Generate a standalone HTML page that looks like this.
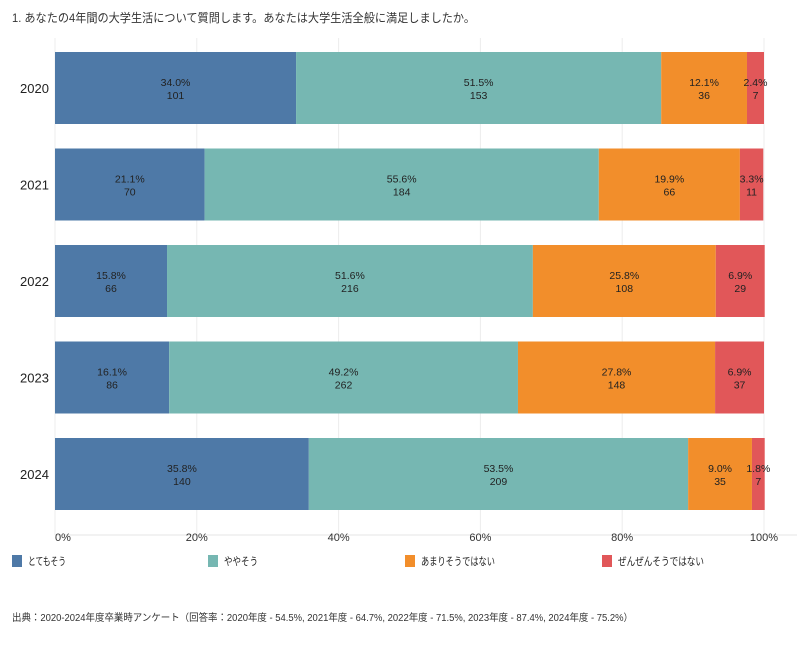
<!DOCTYPE html>
<html><head><meta charset="utf-8"><style>
body{margin:0;background:#fff;font-family:"Liberation Sans","Noto Sans CJK JP",sans-serif;}
svg text{font-family:"Liberation Sans","Noto Sans CJK JP",sans-serif;}
</style></head><body>
<svg id="chart" width="800" height="640" xmlns="http://www.w3.org/2000/svg">
<text x="12" y="22" font-size="12" fill="#333" textLength="463" lengthAdjust="spacingAndGlyphs">1. あなたの4年間の大学生活について質問します。あなたは大学生活全般に満足しましたか。</text>
<g id="grid"></g><g id="bars"></g><g id="axis"></g><g id="legend"></g>
<text x="12" y="621" font-size="10" fill="#333" textLength="621" lengthAdjust="spacingAndGlyphs">出典：2020-2024年度卒業時アンケート（回答率：2020年度 - 54.5%, 2021年度 - 64.7%, 2022年度 - 71.5%, 2023年度 - 87.4%, 2024年度 - 75.2%）</text>
</svg>
<script>
const years=["2020","2021","2022","2023","2024"];
const categories=["とてもそう","ややそう","あまりそうではない","ぜんぜんそうではない"];
const percents=[[34.0,51.5,12.1,2.4],[21.1,55.6,19.9,3.3],[15.8,51.6,25.8,6.9],[16.1,49.2,27.8,6.9],[35.8,53.5,9.0,1.8]];
const counts=[[101,153,36,7],[70,184,66,11],[66,216,108,29],[86,262,148,37],[140,209,35,7]];
const ticks=[0,20,40,60,80,100];
const colors=["#4e79a7","#76b7b2","#f28e2b","#e15759"];
const NS="http://www.w3.org/2000/svg";
const x0=55,x1=764,yTop=52,step=96.5,bh=72;
const xs=v=>x0+(x1-x0)*v/100;
function mk(t,a,p){const e=document.createElementNS(NS,t);for(const k in a)e.setAttribute(k,a[k]);p.appendChild(e);return e;}
const grid=document.getElementById('grid'),bars=document.getElementById('bars'),axis=document.getElementById('axis'),legend=document.getElementById('legend');
ticks.forEach(t=>{
 const l=mk('line',{x1:xs(t),x2:xs(t),y1:38,y2:535,stroke:'#ececec'},grid);
 
 
 const tx=mk('text',{x:xs(t)+(t==0?8:0),y:541,'font-size':11,fill:'#333','text-anchor':'middle'},axis);
 tx.textContent=t+'%';
 
 
});
mk('line',{x1:x0,x2:797,y1:535,y2:535,stroke:'#e4e4e4'},grid);
years.forEach((y,i)=>{
 const top=yTop+i*step;
 const yl=mk('text',{x:20,y:top+bh/2+5,'font-size':13,fill:'#222'},axis);
 yl.textContent=y;
 
 
 let acc=0;
 percents[i].forEach((p,j)=>{
  const r=mk('rect',{x:xs(acc),y:top,width:xs(acc+p)-xs(acc),height:bh,fill:colors[j]},bars);
  
  
  const cx=(xs(acc)+xs(acc+p))/2;
  const t1=mk('text',{x:cx,y:top+bh/2-2,'font-size':10.5,fill:'#222','text-anchor':'middle'},bars);
  t1.textContent=p.toFixed(1)+'%';
  
  
  const t2=mk('text',{x:cx,y:top+bh/2+11,'font-size':10.5,fill:'#222','text-anchor':'middle'},bars);
  t2.textContent=counts[i][j];
  
  
  acc+=p;
 });
});
const lx=[12,208,405,602];
const lw=[38,34,74,86];
categories.forEach((c,j)=>{
 const s=mk('rect',{x:lx[j],y:555,width:10,height:12,fill:colors[j]},legend);
 
 
 const t=mk('text',{x:lx[j]+16,y:565,'font-size':11,fill:'#222',textLength:lw[j],lengthAdjust:'spacingAndGlyphs'},legend);
 t.textContent=c;
 
 
});
</script>
</body></html>
